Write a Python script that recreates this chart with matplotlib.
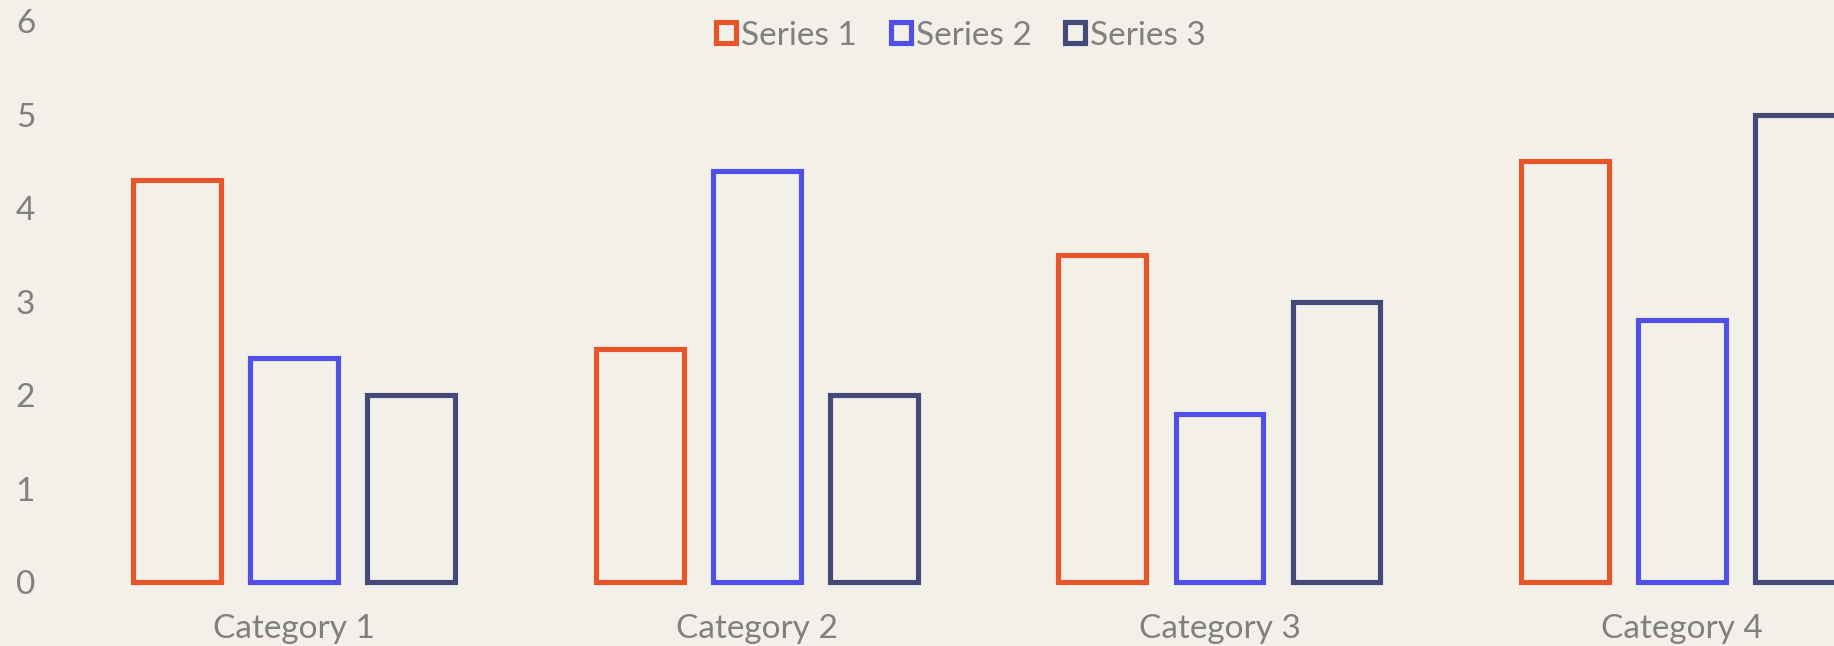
import numpy as np
import matplotlib.pyplot as plt

categories = ["Category 1", "Category 2", "Category 3", "Category 4"]
series_names = ["Series 1", "Series 2", "Series 3"]
series_1 = [4.3, 2.5, 3.5, 4.5]
series_2 = [2.4, 4.4, 1.8, 2.8]
series_3 = [2.0, 2.0, 3.0, 5.0]
colors = ["#E8552A", "#5050E8", "#434A78"]

BG = "#F3F0E9"
TXT = "#808080"

plt.rcParams["font.family"] = ["Lato", "DejaVu Sans"]

fig = plt.figure(figsize=(18.34, 6.46), dpi=100, facecolor=BG)
# plot area runs past the right edge, like the cropped original
ax = fig.add_axes([0.0343, 0.0983, 1.009, 0.8692], facecolor=BG)

x = np.arange(len(categories))
width = 0.19
step = 0.253
for i, (vals, name, c) in enumerate(zip([series_1, series_2, series_3], series_names, colors)):
    ax.bar(x + (i - 1) * step, vals, width, facecolor=BG, edgecolor=c,
           linewidth=3.7, label=name, clip_on=False)

ax.set_xlim(-0.5, 3.5)
ax.set_ylim(0, 6)
ax.set_xticks(x)
ax.set_xticklabels(categories)
ax.set_yticks(range(7))
for s in ax.spines.values():
    s.set_visible(False)
ax.tick_params(length=0, labelsize=24, colors=TXT)
ax.tick_params(axis="y", pad=20)
ax.tick_params(axis="x", pad=23)

leg = fig.legend(loc="center", bbox_to_anchor=(961 / 1834, 0.945), ncol=3,
                 frameon=False, fontsize=24, handlelength=0.6, handleheight=0.6,
                 handletextpad=0.15, columnspacing=1.0, labelcolor=TXT)

fig.savefig("out.png", dpi=100, facecolor=BG)
